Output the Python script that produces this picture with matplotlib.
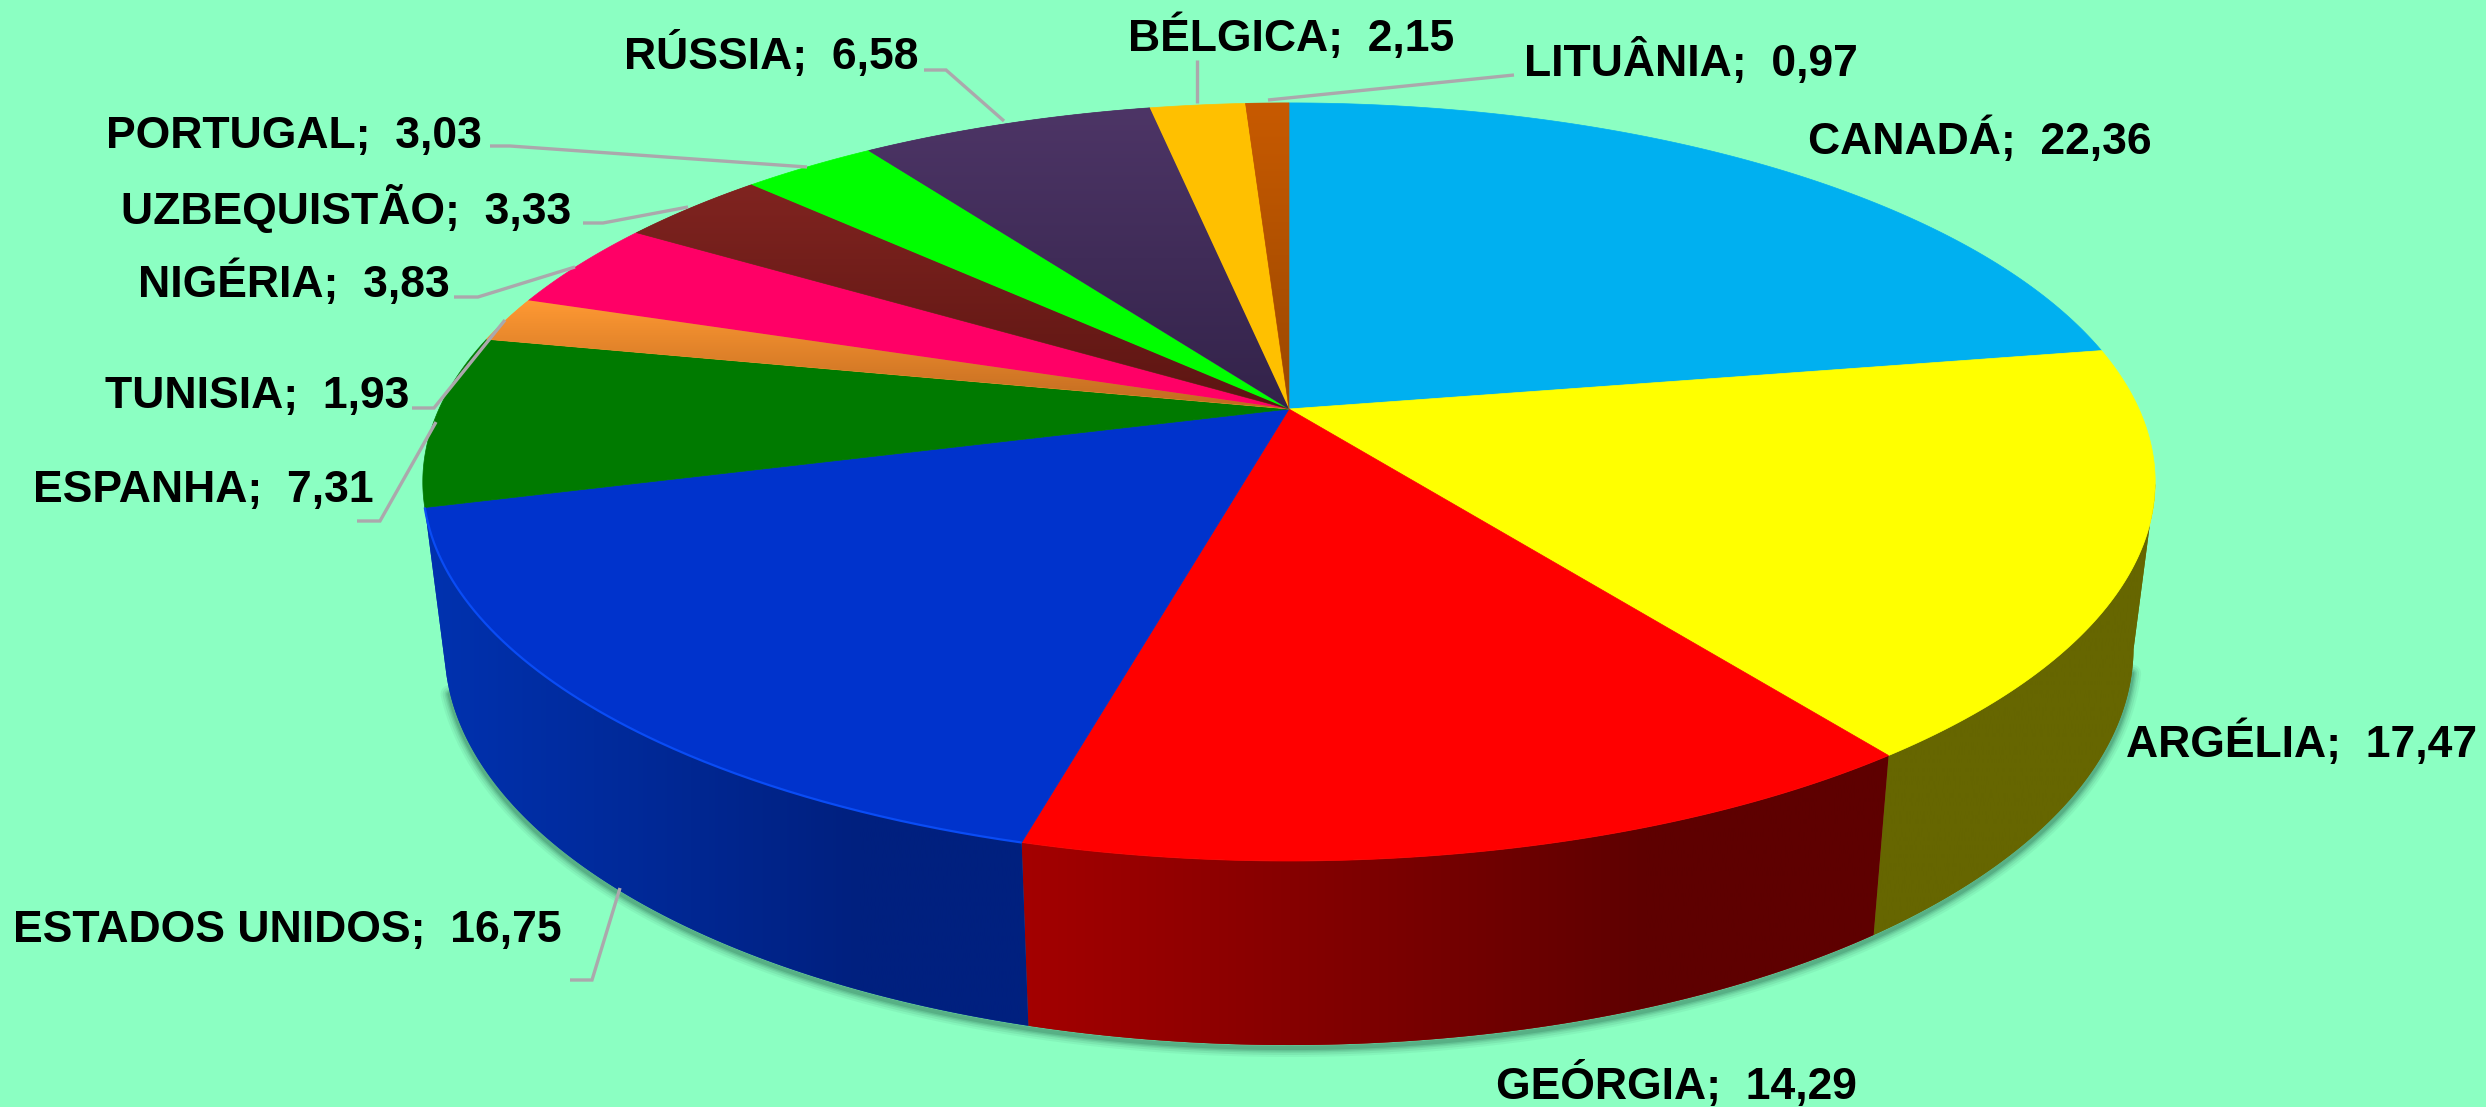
import numpy as np
import matplotlib
matplotlib.use("Agg")
import matplotlib.pyplot as plt
from matplotlib.patches import Polygon
from matplotlib.colors import to_rgb

categories = ["CANADÁ", "ARGÉLIA", "GEÓRGIA", "ESTADOS UNIDOS", "ESPANHA", "TUNISIA",
              "NIGÉRIA", "UZBEQUISTÃO", "PORTUGAL", "RÚSSIA", "BÉLGICA", "LITUÂNIA"]
values = [22.36, 17.47, 14.29, 16.75, 7.31, 1.93, 3.83, 3.33, 3.03, 6.58, 2.15, 0.97]
top_colors = ["#00B0F0", "#FFFF00", "#FF0000", "#0033CC", "#007A00", "#FF9933",
              "#FF0066", "#802420", "#00FF00", "#4D3566", "#FFC000", "#C85A00"]
top_end_colors = ["#00B0F0", "#FFFF00", "#FF0000", "#0033CC", "#007A00", "#C06A20",
                  "#FF0066", "#5C1512", "#00FF00", "#33234A", "#FFC000", "#9A4800"]
wall_start = ["#005A7A", "#666600", "#A40000", "#0032B0", "#004400", "#804D1A",
              "#800033", "#401210", "#008000", "#261A33", "#806000", "#642D00"]
wall_end = ["#005A7A", "#666600", "#5E0000", "#00207F", "#004400", "#804D1A",
            "#800033", "#401210", "#008000", "#261A33", "#806000", "#642D00"]

BG = "#8BFFC2"
W, H = 2486, 1107
CX, CY, A, B, K = 1289, 409, 850, 365, 0.1925
BOTTOM_SCALE, H0, H1 = 0.975, 161, 23


def top_xy(theta):
    X, Y = np.sin(theta), np.cos(theta)
    w = 1 + K * Y
    return CX + A * X / w, CY - B * Y / w


def bottom_xy(theta):
    x, y = top_xy(theta)
    return CX + (x - CX) * BOTTOM_SCALE, y + H0 - H1 * np.cos(theta)


fig = plt.figure(figsize=(W / 100, H / 100), dpi=100, facecolor=BG)
ax = fig.add_axes([0, 0, 1, 1])
ax.set_facecolor(BG)
ax.axis("off")

fractions = np.array(values) / np.sum(values)
edges = np.concatenate([[0], np.cumsum(fractions)]) * 2 * np.pi

# soft shadow beneath the body
arc = np.linspace(np.pi / 2 + 0.25, 3 * np.pi / 2 - 0.3, 400)
sx, sy = bottom_xy(arc)
for lw, alpha in zip([13, 10, 7, 5, 3], [0.05, 0.07, 0.09, 0.11, 0.14]):
    ax.plot(sx, sy + 3, color="#0A3A2A", lw=lw, alpha=alpha, zorder=1, solid_capstyle="round")

# outer wall of the slices that face the viewer, shaded left to right
for i in range(len(values)):
    if not (np.cos(edges[i]) < 0.2 and edges[i] < 1.25 * np.pi):
        continue
    th = np.linspace(edges[i], edges[i + 1], 200)
    th = th[np.cos(th) < -K]
    tx, ty = top_xy(th)
    bx, by = bottom_xy(th)
    pts = np.column_stack([np.r_[tx, bx[::-1]], np.r_[ty, by[::-1]]])
    x0, x1 = pts[:, 0].min(), pts[:, 0].max()
    poly = Polygon(pts, closed=True, facecolor=wall_start[i], edgecolor="none", zorder=2)
    ax.add_patch(poly)
    c0, c1 = np.array(to_rgb(wall_start[i])), np.array(to_rgb(wall_end[i]))
    t = np.clip(np.linspace(0, 1, 512) / 0.72, 0, 1)[None, :, None]
    grad = c0[None, None, :] + (c1 - c0)[None, None, :] * t
    im = ax.imshow(grad, extent=[x0, x1, H, 0], aspect="auto", zorder=2.5, interpolation="bilinear")
    im.set_clip_path(poly)

# top face
for i in range(len(values)):
    th = np.linspace(edges[i], edges[i + 1], max(8, int(values[i] * 12)))
    x, y = top_xy(th)
    pts = np.column_stack([np.r_[CX, x], np.r_[CY, y]])
    poly = Polygon(pts, closed=True, facecolor=top_colors[i], edgecolor=top_colors[i], lw=0.5, zorder=3)
    ax.add_patch(poly)
    if top_colors[i] != top_end_colors[i]:
        c0, c1 = np.array(to_rgb(top_colors[i])), np.array(to_rgb(top_end_colors[i]))
        t = np.linspace(0, 1, 128)[:, None, None]
        grad = c0[None, None, :] + (c1 - c0)[None, None, :] * t
        im = ax.imshow(grad, extent=[0, W, CY, y.min()], aspect="auto", zorder=3.5, interpolation="bilinear")
        im.set_clip_path(poly)

# light rim on the front of the blue slice
rim_i = categories.index("ESTADOS UNIDOS")
rth = np.linspace(edges[rim_i], edges[rim_i + 1], 200)
rx, ry = top_xy(rth)
ax.plot(rx, ry, color="#0A4CF5", lw=1.6, zorder=4, solid_capstyle="butt")

# leaders
GRAY = "#ABA8AC"
leaders = [
    [(924, 70), (946, 70), (1004, 121)],
    [(1197, 60), (1197, 103)],
    [(1268, 100), (1514, 75)],
    [(490, 146), (510, 146), (807, 167)],
    [(583, 223), (603, 223), (688, 207)],
    [(454, 297), (478, 297), (575, 267)],
    [(412, 408), (434, 408), (505, 320)],
    [(357, 521), (380, 521), (436, 422)],
    [(570, 980), (592, 980), (620, 888)],
]
for pts in leaders:
    p = np.array(pts)
    ax.plot(p[:, 0], p[:, 1], color=GRAY, lw=2.4, zorder=5, solid_joinstyle="miter", solid_capstyle="butt")

# labels
label_pos = {
    "CANADÁ": (1808, 154), "ARGÉLIA": (2126, 757), "GEÓRGIA": (1496, 1099),
    "ESTADOS UNIDOS": (13, 942), "ESPANHA": (33, 502), "TUNISIA": (105, 408),
    "NIGÉRIA": (138, 297), "UZBEQUISTÃO": (121, 224), "PORTUGAL": (106, 148),
    "RÚSSIA": (624, 69), "BÉLGICA": (1128, 51), "LITUÂNIA": (1524, 76),
}
for name, v in zip(categories, values):
    lx, ly = label_pos[name]
    txt = f"{name};  {v:.2f}".replace(".", ",")
    ax.text(lx, ly, txt, family="Liberation Sans", weight="bold", fontsize=32,
            color="black", ha="left", va="baseline", zorder=6)

ax.set_xlim(0, W)
ax.set_ylim(H, 0)
fig.savefig("out.png", dpi=100, facecolor=BG)
